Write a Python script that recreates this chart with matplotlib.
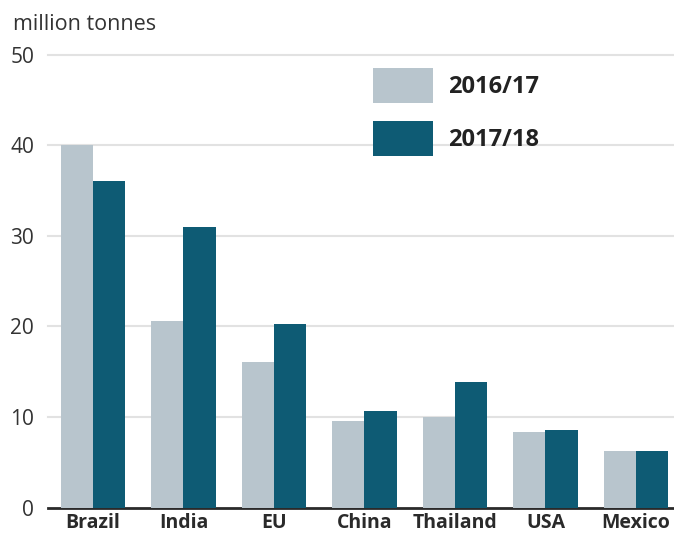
import matplotlib.pyplot as plt
import numpy as np

plt.rcParams['font.family'] = ['Open Sans', 'DejaVu Sans']

# data (million tonnes)
countries = ["Brazil", "India", "EU", "China", "Thailand", "USA", "Mexico"]
prod_2016 = [40.0, 20.6, 16.1, 9.5, 10.0, 8.3, 6.2]
prod_2017 = [36.0, 31.0, 20.3, 10.6, 13.8, 8.5, 6.2]
years = ["2016/17", "2017/18"]
yticks = [0, 10, 20, 30, 40, 50]

light = "#b8c5cd"
dark = "#0e5b74"
text_col = "#333333"

fig = plt.figure(figsize=(6.74, 5.34), dpi=100)
ax = fig.add_axes([48 / 674, 26.5 / 534, 626 / 674, 453 / 534])

x = np.arange(len(countries))
w = 0.355
ax.bar(x - w / 2, prod_2016, w, color=light, label=years[0], zorder=3)
ax.bar(x + w / 2, prod_2017, w, color=dark, label=years[1], zorder=3)

# light gridlines + dark baseline
for y in yticks[1:]:
    ax.axhline(y, color="#e2e2e2", lw=1.5, zorder=1, clip_on=False)
ax.axhline(0, color="#2a2a2a", lw=2.0, zorder=2, clip_on=False)

ax.set_xlim(-0.497, 6.42)
ax.set_ylim(0, 50)
for s in ax.spines.values():
    s.set_visible(False)

ax.set_yticks(yticks)
ax.set_xticks(x)
ax.set_xticklabels(countries, fontweight="bold", fontsize=14, color="#2a2a2a")
ax.tick_params(axis="y", length=0, pad=10, labelsize=15, labelcolor=text_col)
ax.tick_params(axis="x", length=0, pad=4)

fig.text(13 / 674, 1 - 25 / 534, "million tonnes", fontsize=15.5, color=text_col,
         va="center", ha="left")

fs = 17 * 100 / 72
ax.legend(loc="upper left", bbox_to_anchor=(372.7 / 674, 1 - 68 / 534),
          bbox_transform=fig.transFigure, frameon=False, borderpad=0,
          borderaxespad=0, handlelength=60 / fs, handleheight=45 / fs,
          handletextpad=15 / fs, labelspacing=17.5 / fs,
          prop=dict(weight="bold", size=17))
for t in ax.get_legend().get_texts():
    t.set_color("#222222")

fig.savefig("out.png", dpi=100)
